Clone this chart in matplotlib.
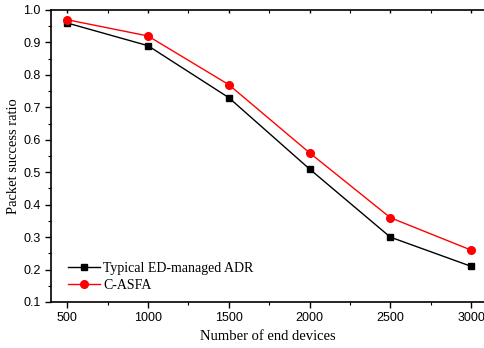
import matplotlib.pyplot as plt
from matplotlib.ticker import MultipleLocator

devices = [500, 1000, 1500, 2000, 2500, 3000]
adr_psr = [0.96, 0.89, 0.73, 0.51, 0.30, 0.21]
casfa_psr = [0.97, 0.92, 0.77, 0.56, 0.36, 0.26]

fig = plt.figure(figsize=(4.84, 3.48), dpi=100)
ax = fig.add_axes([51 / 484, 46 / 348, 433 / 484, 292 / 348])

ax.plot(devices, adr_psr, color='black', marker='s', markersize=5, linewidth=1,
        label='Typical ED-managed ADR')
ax.plot(devices, casfa_psr, color='red', marker='o', markersize=5.5, linewidth=1,
        label='C-ASFA')

ax.set_xlim(400, 3080)
ax.set_ylim(0.1, 1.0)
ax.xaxis.set_major_locator(MultipleLocator(500))
ax.xaxis.set_minor_locator(MultipleLocator(250))
ax.yaxis.set_major_locator(MultipleLocator(0.1))
ax.yaxis.set_minor_locator(MultipleLocator(0.05))

ax.spines['right'].set_visible(False)
for s in ['left', 'bottom', 'top']:
    ax.spines[s].set_linewidth(1.2)

ax.tick_params(axis='both', which='major', direction='out', length=4, width=1,
               labelsize=9)
ax.tick_params(axis='both', which='minor', direction='out', length=2, width=0.8)
# small inward ticks along the top edge
ax.tick_params(axis='x', which='both', top=True, labeltop=False)
for t in ax.xaxis.get_major_ticks() + ax.xaxis.get_minor_ticks():
    t.tick2line.set_marker(3)
    t.tick2line.set_markersize(2)
for lab in ax.get_xticklabels() + ax.get_yticklabels():
    lab.set_family('Liberation Sans')

ax.set_xlabel('Number of end devices', family='Liberation Serif', fontsize=10.5)
ax.set_ylabel('Packet success ratio', family='Liberation Serif', fontsize=10.5,
              labelpad=2)

ax.legend(loc='lower left', frameon=False, prop={'family': 'Liberation Serif', 'size': 10},
          bbox_to_anchor=(0.039, 0.035), borderpad=0, borderaxespad=0,
          handlelength=2.3, handletextpad=0.25, labelspacing=0.3)

fig.savefig('out.png', dpi=100)
